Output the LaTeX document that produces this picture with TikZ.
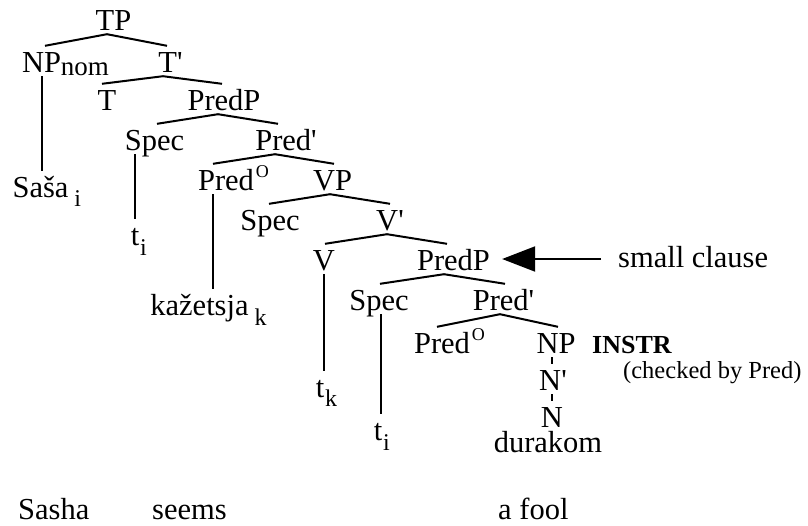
\documentclass[tikz,border=0pt]{standalone}
\usepackage{fontspec}
\setmainfont{Liberation Serif}[Ligatures=TeXOff]
\usetikzlibrary{arrows.meta,calc}
\newcommand\subsc[2][-9pt]{\rlap{\hspace{1pt}\raisebox{#1}{\fontsize{24}{24}\selectfont #2}}}
\newcommand\supO{\rlap{\hspace{2pt}\raisebox{13pt}{\fontsize{18}{18}\selectfont O}}}
\begin{document}
\begin{tikzpicture}[x=1pt,y=-1pt,
  lab/.style={anchor=base, inner xsep=0pt, inner ysep=4pt, text height=22pt, text depth=0pt,
    font=\fontsize{30.5}{34}\selectfont},
  plain/.style={anchor=base west, inner sep=0pt, font=\fontsize{30.5}{34}\selectfont},
  edge/.style={line width=2pt, line cap=butt}]
\useasboundingbox (0,0) rectangle (808,525);

% nodes
\node[lab] (tp) at (113.5,30) {TP};
\node[lab] (np) at (41.5,72) {NP\rlap{\raisebox{-3.5pt}{\fontsize{27}{27}\selectfont nom}}};
\node[lab] (tbar) at (170.5,72) {T'};
\node[lab] (t) at (107,110) {T};
\node[lab] (pp1) at (224,110) {PredP};
\node[lab] (spec1) at (154.5,150) {Spec};
\node[lab] (pbar1) at (286,150) {Pred'};
\node[lab] (pred1) at (226,190) {Pred\supO};
\node[lab] (vp) at (332.5,190) {VP};
\node[lab] (spec2) at (270,230) {Spec};
\node[lab] (vbar) at (390,230) {V'};
\node[lab] (v) at (324,270) {V};
\node[lab] (pp2) at (453.5,270) {PredP};
\node[lab] (spec3) at (379,310) {Spec};
\node[lab] (pbar2) at (503.5,310) {Pred'};
\node[lab] (pred2) at (442,353) {Pred\supO};
\node[lab] (np2) at (556,353) {NP};
\node[lab] (nbar) at (553,390) {N'};
\node[lab] (n) at (552,427) {N};
\node[lab] (dur) at (548,452) {durakom};

\node[lab] (sasa) at (40.5,197) {Saša\subsc[-9pt]{\hspace{5pt}i}};
\node[lab] (ti1) at (135,245) {t\subsc[-10pt]{i}};
\node[lab] (kaz) at (199.5,315) {kažetsja\subsc[-10pt]{\hspace{5pt}k}};
\node[lab] (tk) at (320,397) {t\subsc[-9pt]{k}};
\node[lab] (ti2) at (378,440) {t\subsc[-10pt]{i}};

\node[plain, font=\fontsize{26}{30}\selectfont\bfseries] (instr) at (592,353) {INSTR};
\node[plain, font=\fontsize{24.5}{28}\selectfont] (chk) at (623,378) {(checked by Pred)};
\node[plain] (sc) at (618,267) {small clause};

\node[plain] (w1) at (18,519) {Sasha};
\node[plain] (w2) at (152,519) {seems};
\node[plain] (w3) at (498,519) {a fool};

% branching edges
\draw[edge] ([xshift=3.5pt]np.north) -- ([xshift=-6.5pt]tp.south) -- ([xshift=-3.5pt]tbar.north);
\draw[edge] ([xshift=-5pt]t.north) -- ([xshift=-7.5pt]tbar.south) -- ([xshift=-2pt]pp1.north);
\draw[edge] ([xshift=2.5pt]spec1.north) -- ([xshift=-6pt]pp1.south) -- ([xshift=-8pt]pbar1.north);
\draw[edge] ([xshift=-13pt]pred1.north) -- ([xshift=-11pt]pbar1.south) -- ([xshift=1.5pt]vp.north);
\draw[edge] ([xshift=-1pt]spec2.north) -- ([xshift=-2.5pt]vp.south) -- (vbar.north);
\draw[edge] ([xshift=1pt]v.north) -- ([xshift=-3pt]vbar.south) -- ([xshift=-6.5pt]pp2.north);
\draw[edge] ([xshift=1pt]spec3.north) -- ([xshift=-9.5pt]pp2.south) -- ([xshift=1.5pt]pbar2.north);
\draw[edge] ([xshift=-5pt]pred2.north) -- ([xshift=-3.5pt]pbar2.south) -- ([xshift=2pt]np2.north);

% unary edges
\draw[edge] (np.south) -- (np.south |- sasa.north);
\draw[edge] (ti1.north |- spec1.south) -- (ti1.north);
\draw[edge] ([xshift=-13pt]pred1.south) -- ([xshift=-13pt]pred1.south |- kaz.north);
\draw[edge] (v.south) -- (v.south |- tk.north);
\draw[edge] ([xshift=2pt]spec3.south) -- ([xshift=2pt]spec3.south |- ti2.north);
\draw[edge] (n.north |- np2.south) -- (n.north |- nbar.north);
\draw[edge] (n.north |- nbar.south) -- (n.north);

% arrow to small clause
\draw[edge, -{Triangle[length=33pt,width=25pt]}]
  ($(sc.west |- pp2.east)+(-17,0)$) -- ($(pp2.east)+(12,0)$);
\end{tikzpicture}
\end{document}
